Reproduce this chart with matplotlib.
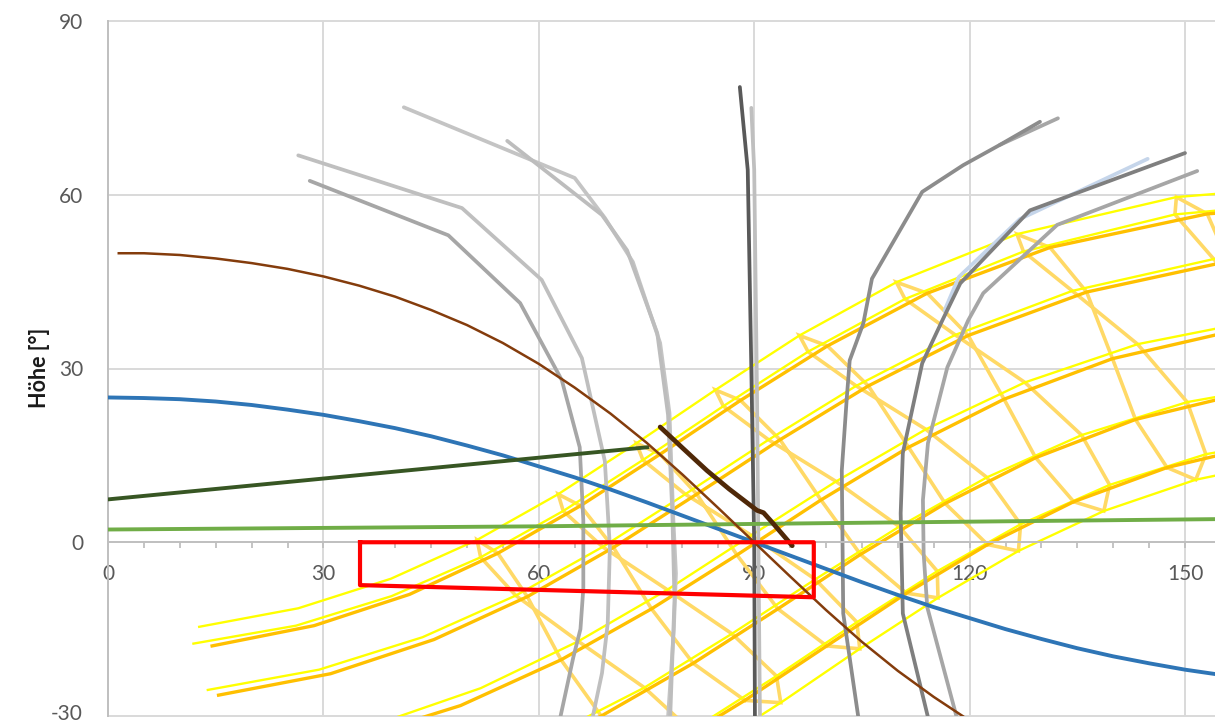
import numpy as np
import matplotlib
matplotlib.use("Agg")
import matplotlib.pyplot as plt
from matplotlib.transforms import ScaledTranslation

plt.rcParams['font.family'] = ['Lato', 'DejaVu Sans']
plt.rcParams['axes.unicode_minus'] = False

# sun positions on the 21st of each month, full clock hours 1:00 .. 13:00
months = ["Jan", "Feb", "Mär", "Apr", "Mai", "Jun", "Jul", "Aug", "Sep", "Okt", "Nov", "Dez"]
clock_hours = [1, 2, 3, 4, 5, 6, 7, 8, 9, 10, 11, 12, 13]
sun_az = [
    [20.0, 43.3, 61.7, 76.3, 88.7, 100.1, 111.2, 122.5, 134.5, 147.5, 161.4, 176.1, 191.0],
    [15.5, 36.3, 53.9, 68.7, 81.5, 93.3, 104.8, 116.6, 129.2, 143.1, 158.4, 174.7, 191.4],
    [15.0, 33.1, 49.1, 63.1, 75.7, 87.6, 99.3, 111.5, 124.8, 139.9, 157.1, 175.9, 195.0],
    [15.4, 31.0, 45.4, 58.4, 70.4, 82.0, 93.6, 105.9, 119.8, 136.3, 156.0, 178.5, 201.2],
    [14.5, 28.7, 42.0, 54.3, 65.8, 76.9, 88.1, 100.2, 114.1, 131.2, 153.1, 179.4, 205.9],
    [12.7, 26.5, 39.4, 51.4, 62.7, 73.6, 84.6, 96.3, 109.8, 126.6, 148.8, 176.8, 205.6],
    [11.9, 26.2, 39.5, 51.9, 63.4, 74.5, 85.7, 97.5, 111.0, 127.5, 148.6, 174.7, 201.9],
    [13.9, 29.4, 43.8, 56.8, 68.9, 80.4, 92.0, 104.2, 118.0, 134.3, 154.0, 176.6, 199.7],
    [19.2, 36.5, 51.9, 65.5, 77.9, 89.6, 101.4, 113.9, 127.7, 143.4, 161.3, 180.6, 199.9],
    [25.7, 44.9, 61.0, 74.7, 86.9, 98.5, 110.2, 122.4, 135.6, 150.3, 166.2, 182.9, 199.5],
    [29.8, 50.9, 67.6, 81.2, 93.1, 104.3, 115.5, 127.1, 139.5, 152.9, 167.3, 182.2, 197.0],
    [27.3, 50.4, 67.9, 81.8, 93.7, 104.7, 115.6, 126.8, 138.7, 151.5, 165.1, 179.3, 193.5],
]
sun_alt = [
    [-58.0, -53.0, -45.5, -36.7, -27.3, -17.9, -8.8, -0.4, 7.0, 12.9, 17.0, 18.8, 18.3],
    [-49.1, -45.0, -38.3, -30.0, -20.9, -11.5, -2.1, 6.7, 14.6, 21.2, 25.8, 28.0, 27.5],
    [-38.3, -34.4, -28.2, -20.3, -11.5, -2.2, 7.3, 16.4, 24.7, 31.7, 36.6, 38.9, 38.0],
    [-26.4, -22.7, -16.8, -9.4, -0.9, 8.3, 17.7, 27.0, 35.7, 43.2, 48.5, 50.6, 49.0],
    [-17.9, -14.4, -9.0, -1.9, 6.3, 15.2, 24.5, 33.9, 43.0, 50.9, 56.7, 59.0, 56.9],
    [-14.6, -11.4, -6.3, 0.4, 8.3, 17.1, 26.3, 35.7, 44.9, 53.2, 59.6, 62.4, 60.6],
    [-17.5, -14.4, -9.3, -2.6, 5.4, 14.2, 23.5, 32.9, 42.0, 50.2, 56.6, 59.6, 58.2],
    [-25.5, -22.0, -16.4, -9.2, -0.8, 8.3, 17.7, 27.0, 35.8, 43.4, 48.9, 51.3, 50.0],
    [-36.2, -31.8, -25.2, -17.1, -8.2, 1.2, 10.5, 19.5, 27.6, 34.2, 38.6, 40.0, 38.3],
    [-46.8, -41.3, -33.8, -25.1, -15.8, -6.4, 2.7, 11.2, 18.5, 24.2, 27.7, 28.5, 26.7],
    [-55.8, -49.7, -41.6, -32.5, -23.1, -13.8, -5.0, 3.1, 9.9, 15.2, 18.4, 19.2, 17.6],
    [-60.3, -54.3, -46.2, -37.1, -27.7, -18.4, -9.6, -1.5, 5.4, 10.8, 14.3, 15.6, 14.5],
]
first_hour_line = 4

# horizon of the 25° and 50° tilted planes
plane25_x = [0, 5, 10, 15, 20, 25, 30, 35, 40, 45, 50, 55, 60, 65, 70, 75, 80, 85, 90,
             95, 100, 105, 110, 115, 120, 125, 130, 135, 140, 145, 150, 155]
plane25_y = [25.0, 24.9, 24.7, 24.3, 23.7, 22.9, 22.0, 20.9, 19.7, 18.3, 16.7, 15.0, 13.1,
             11.2, 9.1, 6.9, 4.6, 2.3, 0.0, -2.3, -4.6, -6.9, -9.1, -11.2, -13.1, -15.0,
             -16.7, -18.3, -19.7, -20.9, -22.0, -22.9]
plane50_x = [1.5, 5, 10, 15, 20, 25, 30, 35, 40, 45, 50, 55, 60, 65, 70, 75, 80, 85, 90,
             95, 100, 105, 110, 115, 120]
plane50_y = [49.9, 49.9, 49.6, 49.0, 48.2, 47.2, 45.9, 44.3, 42.4, 40.1, 37.5, 34.4, 30.8,
             26.7, 22.2, 17.2, 11.7, 5.9, 0.0, -5.9, -11.7, -17.2, -22.2, -26.7, -30.8]

ridge_x = [0, 30, 60, 75.1]
ridge_y = [7.4, 11.0, 14.6, 16.4]
terrain_x = [0, 60, 100, 155]
terrain_y = [2.2, 2.75, 3.3, 4.0]
roof_x = [76.9, 80.0, 83.4, 86.5, 90.4, 91.3, 92.6, 95.3]
roof_y = [19.9, 16.3, 12.4, 9.2, 5.5, 5.1, 3.3, -0.6]

window_x = [35.1, 98.3, 98.3, 35.1, 35.1]
window_y = [0.0, 0.0, -9.5, -7.4, 0.0]

# obstacle outlines: (x, y, colour)
obstacles = [
    ([28.1, 47.4, 57.4, 63.2, 65.7, 66.2, 66.2, 65.8, 64.8, 63.0],
     [62.4, 53.0, 41.3, 28.0, 16.4, 3.8, -8.0, -15.0, -19.9, -30.2], '#a6a6a6'),
    ([26.5, 49.3, 60.4, 66.0, 69.2, 69.9, 69.6, 68.8, 67.5],
     [66.8, 57.7, 45.3, 31.8, 14.0, -0.9, -14.0, -22.6, -30.2], '#bfbfbf'),
    ([41.2, 65.0, 69.2, 73.1, 76.9, 78.2, 78.7, 79.1, 78.8, 78.0],
     [75.1, 62.9, 56.0, 48.4, 34.4, 22.3, 5.0, -5.4, -15.2, -30.2], '#c4c4c4'),
    ([55.6, 68.8, 72.3, 76.5, 78.0, 78.6, 78.9, 78.6, 78.3],
     [69.3, 56.5, 50.4, 36.1, 22.0, 5.0, -10.0, -20.0, -30.2], '#bdbdbd'),
    ([89.6, 90.0, 90.4, 90.8],
     [75.0, 64.3, 24.5, -30.2], '#bfbfbf'),
    ([88.0, 89.1, 89.6, 90.0, 90.1],
     [78.6, 64.3, 30.0, 0.0, -30.2], '#595959'),
    ([132.3, 124.2],
     [73.2, 68.6], '#a6a6a6'),
    ([129.8, 124.2, 119.1, 113.4, 106.4, 105.2, 103.3, 102.9, 102.2, 102.4, 104.5],
     [72.6, 68.6, 65.1, 60.5, 45.5, 37.8, 31.4, 25.0, 12.4, -12.3, -30.2], '#8c8c8c'),
    ([144.8, 127.0, 118.5, 116.5],
     [66.2, 55.8, 45.8, 40.0], '#c5d5ea'),
    ([150.0, 128.4, 118.7, 116.2, 113.4, 110.7, 110.4, 110.7, 114.2],
     [67.2, 57.3, 44.7, 38.3, 30.9, 15.4, 5.0, -12.3, -30.2], '#7f7f7f'),
    ([151.7, 132.2, 121.9, 119.8, 116.9, 114.2, 113.5, 113.6, 114.1, 118.2],
     [64.1, 54.8, 43.0, 38.3, 30.2, 17.1, 7.3, -2.0, -11.2, -30.2], '#a6a6a6'),
]

x_ticks = [0, 30, 60, 90, 120, 150]
y_ticks = [-30, 0, 30, 60, 90]

az = np.array(sun_az)
alt = np.array(sun_alt)

fig = plt.figure(figsize=(12.15, 7.24), dpi=100)
ax = fig.add_axes([108 / 1215, 8 / 724, 1107 / 1215, 695 / 724])
ax.set_xlim(0, 1107 / 7.18)
ax.set_ylim(-30, 90)

for v in x_ticks[1:]:
    ax.axvline(v, color='#d9d9d9', lw=1.4, zorder=0.5)
for v in y_ticks:
    if v != 0:
        ax.axhline(v, color='#d9d9d9', lw=1.4, zorder=0.5, clip_on=False)

# hour lines run through the months and close back on January
loop = list(range(12)) + [0]
for h in range(clock_hours.index(first_hour_line), len(clock_hours)):
    ax.plot(az[loop, h], alt[loop, h], color='#ffd966', lw=2.6, zorder=2,
            solid_joinstyle='miter')
for i in range(5, 12):
    ax.plot(az[i], alt[i], color='#ffff00', lw=1.7, zorder=2.1)
for i in range(0, 5):
    ax.plot(az[i], alt[i], color='#ffc000', lw=2.4, zorder=2.2)

for xs, ys, c in obstacles:
    ax.plot(xs, ys, color=c, lw=2.7, zorder=2.4, solid_capstyle='round')

ax.plot(plane25_x, plane25_y, color='#2e75b6', lw=2.8, zorder=2.6)
ax.plot(terrain_x, terrain_y, color='#70ad47', lw=2.8, zorder=2.6)
ax.plot(ridge_x, ridge_y, color='#375623', lw=2.8, zorder=2.6)
ax.plot(plane50_x, plane50_y, color='#843c0c', lw=1.8, zorder=2.7)
ax.plot(roof_x, roof_y, color='#4f2808', lw=3.4, zorder=2.8, solid_capstyle='round')
ax.plot(window_x, window_y, color='#ff0000', lw=3.0, zorder=3)

for side in ['top', 'right']:
    ax.spines[side].set_visible(False)
ax.spines['bottom'].set_position(('data', 0))
ax.spines['bottom'].set_color('#bfbfbf')
ax.spines['bottom'].set_linewidth(1.4)
ax.spines['left'].set_color('#bfbfbf')
ax.spines['left'].set_linewidth(1.4)

ax.set_xticks(x_ticks)
ax.set_xticks(np.arange(0, 155, 5), minor=True)
ax.set_yticks(y_ticks)
ax.tick_params(axis='x', which='both', direction='out', length=4, width=1.3,
               color='#bfbfbf', labelsize=15, labelcolor='#595959', pad=12)
ax.tick_params(axis='y', length=0, pad=18, labelsize=15, labelcolor='#595959')

# lift the lowest y label a little so it stays inside the canvas
low = ax.get_yticklabels()[0]
low.set_transform(low.get_transform() + ScaledTranslation(0, 4 / 100, fig.dpi_scale_trans))

fig.text(40 / 1215, 1 - 368 / 724, 'Höhe [°]', rotation=90, ha='center', va='center',
         fontsize=15.5, fontweight='bold', color='#1a1a1a')

fig.savefig("out.png")
